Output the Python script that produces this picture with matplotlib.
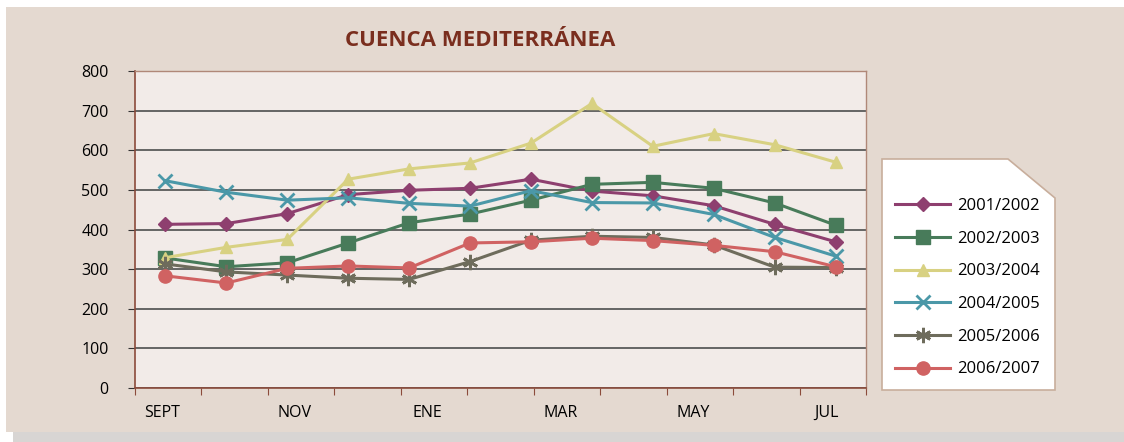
import matplotlib.pyplot as plt
from matplotlib.patches import Rectangle, Polygon

# monthly values
months = ['SEPT', 'OCT', 'NOV', 'DIC', 'ENE', 'FEB', 'MAR', 'ABR', 'MAY', 'JUN', 'JUL', 'AGO']
tick_labels = ['SEPT', 'NOV', 'ENE', 'MAR', 'MAY', 'JUL']
y_ticks = [0, 100, 200, 300, 400, 500, 600, 700, 800]

s2001 = [413, 415, 440, 488, 499, 504, 527, 497, 485, 460, 413, 369]
s2002 = [328, 306, 316, 366, 417, 439, 474, 514, 519, 504, 467, 411]
s2003 = [329, 355, 375, 527, 553, 568, 618, 718, 610, 642, 614, 570]
s2004 = [523, 494, 474, 480, 466, 459, 498, 468, 467, 438, 380, 333]
s2005 = [313, 293, 285, 277, 274, 319, 373, 383, 380, 361, 305, 304]
s2006 = [283, 265, 302, 308, 303, 366, 369, 378, 372, 360, 344, 306]

series = [
    ('2001/2002', s2001, '#8E3F6F', 'D', 7),
    ('2002/2003', s2002, '#487B5A', 's', 10),
    ('2003/2004', s2003, '#D8D182', '^', 9),
    ('2004/2005', s2004, '#4B98A8', 'x', 10),
    ('2005/2006', s2005, '#6E6C5C', (6, 2, 0), 11),
    ('2006/2007', s2006, '#D06262', 'o', 9.5),
]

W, H = 1124, 442
fig = plt.figure(figsize=(W / 100, H / 100), dpi=100, facecolor='white')

# background panel and shadow
fig.patches.append(Rectangle((13 / W, 0), 1 - 13 / W, 10 / H, transform=fig.transFigure,
                             facecolor='#D8D5D3', edgecolor='none', zorder=-3))
fig.patches.append(Rectangle((6 / W, 10 / H), 1 - 6 / W, (435 - 10) / H, transform=fig.transFigure,
                             facecolor='#E4D9D0', edgecolor='none', zorder=-2))

# legend box with cut corner
pts = [(882, 159), (1008, 159), (1055, 198), (1055, 390), (882, 390)]
fig.patches.append(Polygon([(x / W, 1 - y / H) for x, y in pts], closed=True,
                           transform=fig.transFigure, facecolor='white',
                           edgecolor='#C8AE9C', linewidth=1.2, zorder=-1))

ax = fig.add_axes([135 / W, 1 - 388 / H, (866 - 135) / W, (388 - 71) / H])
ax.set_facecolor('#F2EBE8')

x = list(range(len(months)))
for name, vals, col, mk, ms in series:
    mew = 2 if mk in ('x', (6, 2, 0)) else 1
    ax.plot(x, vals, color=col, marker=mk, markersize=ms, linewidth=2.2,
            markeredgewidth=mew, markeredgecolor=col, label=name)

ax.set_xlim(-0.5, len(months) - 0.5)
ax.set_ylim(0, 800)
ax.set_yticks(y_ticks)
ax.yaxis.grid(True, color='#5A5A5A', linewidth=1.3)
ax.set_axisbelow(True)

# category axis: 11 tick intervals, labels in every other interval
step = len(months) / 11
ax.set_xticks([-0.5 + k * step for k in range(12)])
ax.set_xticklabels([])
ax.set_xticks([-0.5 + (2 * j + 0.4) * step for j in range(len(tick_labels))], minor=True)
ax.set_xticklabels(tick_labels, minor=True, fontsize=11.5, family='Open Sans')
ax.tick_params(axis='x', which='major', length=5, color='#8B4B3B', direction='out')
ax.tick_params(axis='x', which='minor', length=0, pad=12)
ax.tick_params(axis='y', length=5, color='#333333', labelsize=11.5, pad=14)
for lab in ax.get_yticklabels():
    lab.set_family('Open Sans')

for side in ['top', 'right']:
    ax.spines[side].set_color('#B08878')
    ax.spines[side].set_linewidth(1)
for side in ['left', 'bottom']:
    ax.spines[side].set_color('#8B4B3B')
    ax.spines[side].set_linewidth(1.2)

fig.text(480 / W, 1 - 40 / H, 'CUENCA MEDITERRÁNEA', ha='center', va='center',
         fontsize=16, fontweight='bold', color='#7A2E1E', family='Open Sans')

leg = ax.legend(loc='upper left', bbox_to_anchor=(880 / W, 1 - 183 / H),
                bbox_transform=fig.transFigure, frameon=False, handlelength=3.3,
                labelspacing=1.0, handletextpad=0.4, prop={'family': 'Open Sans', 'size': 12})

fig.savefig('out.png', dpi=100, facecolor=fig.get_facecolor())
